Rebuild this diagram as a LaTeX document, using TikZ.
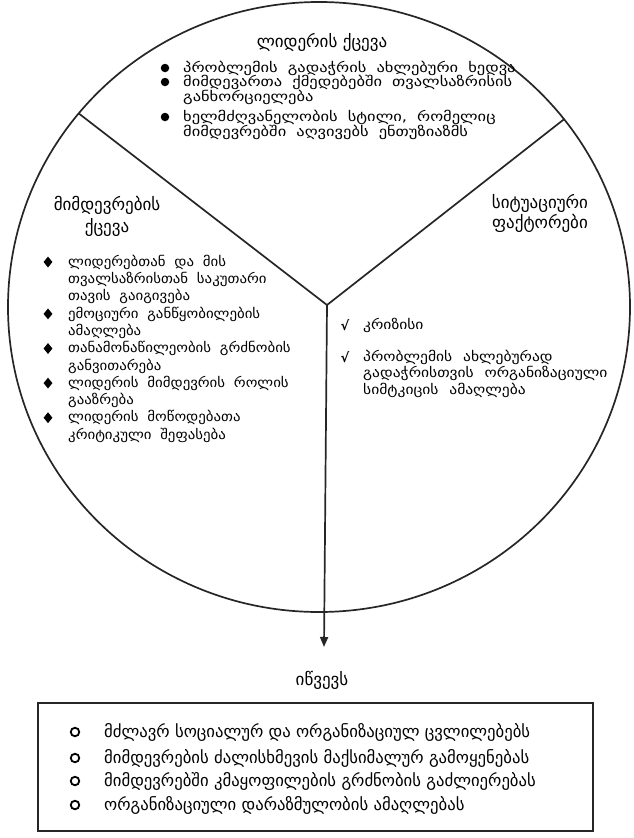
\documentclass[tikz,border=0pt]{standalone}
\usepackage{fontspec}
\setmainfont{DejaVu Sans}
% slightly widened cuts of the body face
\newfontfamily\bodyfont{DejaVu Sans}[FakeStretch=1.22]
\newfontfamily\rightbodyfont{DejaVu Sans}[FakeStretch=1.15]
\newfontfamily\leftbodyfont{DejaVu Sans}[FakeStretch=1.1]
\usetikzlibrary{arrows.meta,calc,shapes.geometric}
% fixed-height rule so every text block has the same top above its first baseline
\newcommand\gstrut{\rule{0pt}{16pt}}
% keep line pitch fixed even where glyphs nearly touch
\newcommand\tightlines{\lineskiplimit-20pt\relax}
% roomy gaps between words in the sector lists
\newcommand\widewords[1]{\spaceskip #1em\relax}

\begin{document}
\begin{tikzpicture}[x=1pt,y=-1pt,
  outline/.style={line width=1.7pt, draw=black!85},
  heading/.style={font=\fontsize{17}{21}\selectfont, align=center, inner sep=0pt, anchor=north},
  entry/.style={align=left, inner sep=0pt, anchor=north west},
  outcome/.style={font=\fontsize{16.7}{18}\selectfont, align=left, inner sep=0pt, anchor=north west},
  dotmark/.style={circle, fill=black, inner sep=0pt, minimum size=8.5pt},
  gemmark/.style={diamond, fill=black, inner sep=0pt, minimum width=9pt, minimum height=11pt},
  tickmark/.style={font=\bfseries\fontsize{13}{13}\selectfont, inner sep=0pt},
  ringmark/.style={circle, draw=black, line width=1.8pt, inner sep=0pt, minimum size=8.5pt},
]
\useasboundingbox (0,0) rectangle (634,838);

% the three-sector circle
\draw[outline] (319,307) ellipse [x radius=311pt, y radius=305pt];
\coordinate (hub) at (327,305);
\coordinate (lrim) at (78.7,113.4);
\coordinate (rrim) at (564.1,119.2);
\coordinate (tip) at (324,647);
\draw[outline] (lrim) -- (hub) -- (rrim);
\draw[outline, -{Triangle[length=10pt,width=8pt]}] (hub) -- (tip);

% leader's behaviour
\node[heading] (leadh) at (322,31.1) {\gstrut ლიდერის ქცევა};
\begin{scope}[entry/.append style={font=\bodyfont\fontsize{13.5}{14.8}\selectfont\tightlines\widewords{0.75}}]
\node[entry] (t1) at (183,56.05) {\gstrut პრობლემის გადაჭრის ახლებური ხედვა};
\node[entry] (t2) at (183,70.05) {\gstrut მიმდევართა ქმედებებში თვალსაზრისის\\განხორციელება};
\node[entry] (t3) at (183,105.05) {\gstrut ხელმძღვანელობის სტილი, რომელიც\\მიმდევრებში აღვივებს ენთუზიაზმს};
\end{scope}
\foreach \n in {t1,t2,t3}
  \node[dotmark] (b\n) at ($(\n.north west)+(-18,11.95)$) {};

% followers' behaviour
\node[heading, font=\fontsize{17}{22}\selectfont] (folh) at (107,194.1) {\gstrut მიმდევრების\\ქცევა};
\begin{scope}[entry/.append style={font=\leftbodyfont\fontsize{13.5}{17.3}\selectfont\tightlines\widewords{0.65}}]
\node[entry] (l1) at (68,250.05) {\gstrut ლიდერებთან და მის\\თვალსაზრისთან საკუთარი\\თავის გაიგივება};
\node[entry] (l2) at (68,301.95) {\gstrut ემოციური განწყობილების\\ამაღლება};
\node[entry] (l3) at (68,336.55) {\gstrut თანამონაწილეობის გრძნობის\\განვითარება};
\node[entry] (l4) at (68,371.15) {\gstrut ლიდერის მიმდევრის როლის\\გააზრება};
\node[entry] (l5) at (68,405.75) {\gstrut ლიდერის მოწოდებათა\\კრიტიკული შეფასება};
\end{scope}
\foreach \n in {l1,l2,l3,l4,l5}
  \node[gemmark] (b\n) at ($(\n.north west)+(-20,11.95)$) {};

% situational factors
\node[heading, font=\fontsize{17}{20}\selectfont] (sith) at (540,192.1) {\gstrut სიტუაციური\\ფაქტორები};
\begin{scope}[entry/.append style={font=\rightbodyfont\fontsize{13.5}{16.5}\selectfont\tightlines\widewords{0.8}}]
\node[entry] (r1) at (363,313.05) {\gstrut კრიზისი};
\node[entry] (r2) at (363,345.05) {\gstrut პრობლემის ახლებურად\\გადაჭრისთვის ორგანიზაციული\\სიმტკიცის ამაღლება};
\end{scope}
\foreach \n in {r1,r2}
  \node[tickmark] (b\n) at ($(\n.north west)+(-18,11.95)$) {√};

% results
\node[heading] (resh) at (322,669.1) {\gstrut იწვევს};
\node[outline, draw, minimum width=555pt, minimum height=128pt, inner sep=0pt] (resbox) at (315.5,767) {};
\node[outcome] (o1) at (104,721) {\gstrut მძლავრ სოციალურ და ორგანიზაციულ ცვლილებებს};
\node[outcome] (o2) at (104,747) {\gstrut მიმდევრების ძალისხმევის მაქსიმალურ გამოყენებას};
\node[outcome] (o3) at (104,770) {\gstrut მიმდევრებში კმაყოფილების გრძნობის გაძლიერებას};
\node[outcome] (o4) at (104,794) {\gstrut ორგანიზაციული დარაზმულობის ამაღლებას};
\foreach \n in {o1,o2,o3,o4}
  \node[ringmark] (b\n) at ($(\n.north west)+(-29,11)$) {};
\end{tikzpicture}
\end{document}
